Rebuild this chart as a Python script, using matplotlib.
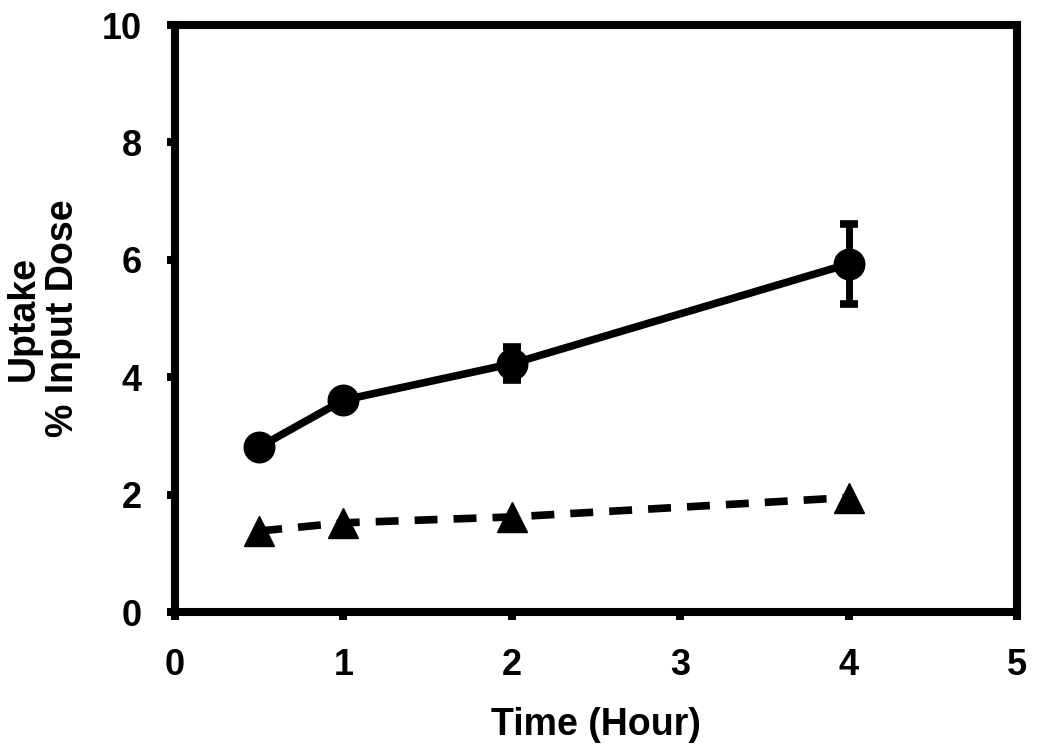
import matplotlib
matplotlib.use("Agg")
import matplotlib.pyplot as plt

plt.rcParams['font.family'] = ['Liberation Sans', 'DejaVu Sans']
plt.rcParams['font.weight'] = 'bold'

time_h = [0.5, 1, 2, 4]
uptake_circle = [2.81, 3.61, 4.23, 5.93]
err_circle = [0.05, 0.08, 0.28, 0.68]
uptake_triangle = [1.38, 1.52, 1.62, 1.95]

fig = plt.figure(figsize=(10.5, 7.47), dpi=100)
ax = fig.add_axes([0.1667, 0.1807, 0.8019, 0.7858])

ax.errorbar(time_h, uptake_circle, yerr=err_circle, color='black', lw=5.5,
            marker='o', markersize=22, elinewidth=5, capsize=6.5, capthick=5.5)
ax.plot(time_h, uptake_triangle, color='black', lw=5.5, ls=(0, (3, 2.1)),
        marker='^', markersize=22)

ax.set_xlim(0, 5)
ax.set_ylim(0, 10)
ax.set_xticks([0, 1, 2, 3, 4, 5])
ax.set_yticks([0, 2, 4, 6, 8, 10])
for s in ax.spines.values():
    s.set_linewidth(5.8)
ax.tick_params(direction='out', length=6, width=5.8, labelsize=26)
ax.tick_params(axis='x', pad=20)
ax.tick_params(axis='y', pad=18)
for lab in ax.get_xticklabels() + ax.get_yticklabels():
    lab.set_fontweight('bold')

ax.set_xlabel('Time (Hour)', fontsize=27, fontweight='bold', labelpad=17)
ax.set_ylabel('Uptake\n% Input Dose', fontsize=27, fontweight='bold',
              labelpad=15, linespacing=1.1)

fig.savefig('out.png', dpi=100)
